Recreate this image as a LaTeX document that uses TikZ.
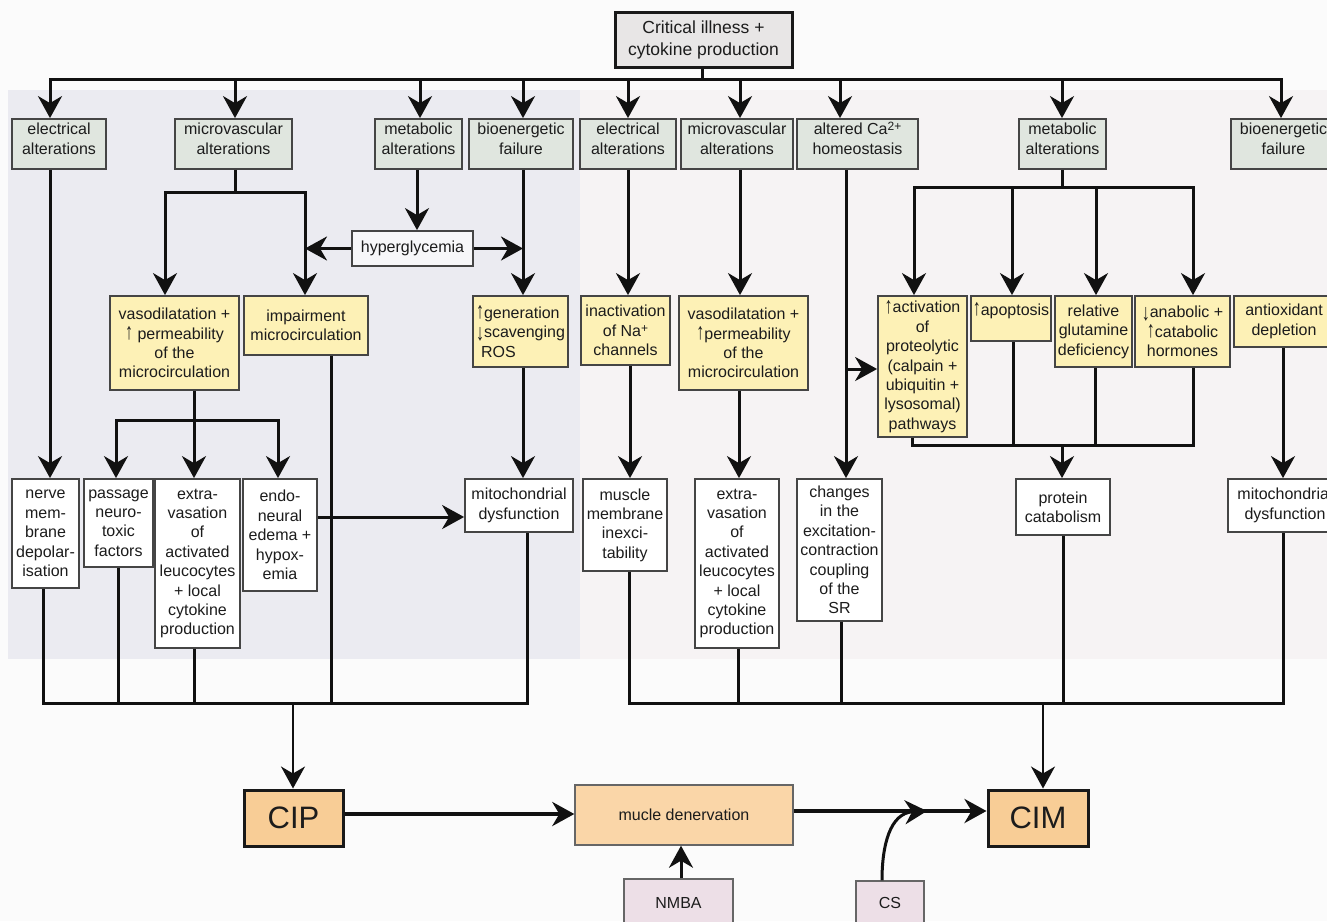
\documentclass[tikz,border=0pt]{standalone}
\usepackage{fontspec}
\setmainfont{Liberation Sans}
\usetikzlibrary{arrows.meta}
\definecolor{pagebg}{HTML}{FBFBFB}
\definecolor{panelL}{HTML}{EBEBF1}
\definecolor{panelR}{HTML}{F6F3F4}
\definecolor{grnfill}{HTML}{E0E6DF}
\definecolor{ylwfill}{HTML}{FDF1B6}
\definecolor{topfill}{HTML}{E8E6E6}
\definecolor{cipfill}{HTML}{F8CD96}
\definecolor{denfill}{HTML}{FAD6A8}
\definecolor{pinkfill}{HTML}{EDDFE7}
\definecolor{bd}{HTML}{454545}
\definecolor{txt}{HTML}{1C1C1C}
\definecolor{lnc}{HTML}{111111}
\newcommand\ua{\raisebox{-0.5pt}{\scalebox{1}[1.45]{↑}}}
\newcommand\da{\raisebox{-3pt}{\scalebox{1}[1.45]{↓}}}
\newcommand\bx[7]{\node[#6, minimum width={(#4)-(#2)}, minimum height={(#5)-(#3)}] (#1) at ({((#2)+(#4))/2},{((#3)+(#5))/2}) {#7};}
\tikzset{
  every node/.style={font=\fontsize{16}{19.4}\selectfont, text=txt},
  boxbase/.style={draw=bd, line width=1.8pt, inner sep=1pt, align=center},
  rowA/.style={boxbase, fill=grnfill, text depth=11pt},
  rowB/.style={boxbase, fill=ylwfill},
  rowC/.style={boxbase, fill=white},
  hypbox/.style={boxbase, fill=white!60!panelL},
  topbox/.style={boxbase, draw=black!90, line width=3pt, fill=topfill, font=\fontsize{17.5}{22}\selectfont},
  bigbox/.style={boxbase, draw=black!90, line width=3pt, fill=cipfill, font=\fontsize{31}{36}\selectfont},
  denbox/.style={boxbase, draw=black!60, line width=1.4pt, fill=denfill},
  pinkbox/.style={boxbase, draw=black!60, line width=1.4pt, fill=pinkfill},
  conn/.style={draw=lnc, line width=3pt},
  bus/.style={conn, line cap=rect},
  arr/.style={conn, -{Stealth[length=22pt, width=24pt, inset=7pt]}},
}
\begin{document}
\begin{tikzpicture}[x=1pt, y=-1pt]
\useasboundingbox (0,0) rectangle (1327,921);
\clip (0,0) rectangle (1327,921);
\fill[pagebg] (0,0) rectangle (1327,921);
\fill[panelL] (8,90) rectangle (580,659);
\fill[panelR] (580,90) rectangle (1327,659);

% top
\bx{tb}{615}{12}{792}{67}{topbox}{Critical illness +\\cytokine production}

% row 1
\bx{elL}{12}{119}{106}{169}{rowA}{electrical\\alterations}
\bx{mvL}{175}{119}{292}{169}{rowA}{microvascular\\alterations}
\bx{meL}{375}{119}{462}{169}{rowA}{metabolic\\alterations}
\bx{biL}{469}{119}{573}{169}{rowA}{bioenergetic\\failure}
\bx{elR}{580}{119}{676}{169}{rowA}{electrical\\alterations}
\bx{mvR}{681}{119}{793}{169}{rowA}{microvascular\\alterations}
\bx{ca}{797}{119}{918}{169}{rowA}{altered Ca\raisebox{4pt}{\fontsize{12}{12}\selectfont 2+}\\homeostasis}
\bx{meR}{1019}{119}{1106}{169}{rowA}{metabolic\\alterations}
\bx{biR}{1231}{119}{1336}{169}{rowA}{bioenergetic\\failure}

\bx{hyp}{352}{231}{473}{266}{hypbox}{hyperglycemia}

% row 2
\bx{vaL}{110}{296}{239}{390}{rowB}{vasodilatation +\\\ua{} permeability\\of the\\microcirculation}
\bx{imp}{244}{296}{368}{355}{rowB}{impairment\\microcirculation}
\bx{gen}{473}{296}{568}{367}{rowB, align=left}{\ua generation\\\da scavenging\\\hspace*{5pt}ROS}
\bx{ina}{581}{296}{670}{365}{rowB}{inactivation\\of Na\raisebox{4pt}{\fontsize{12}{12}\selectfont +}\\channels}
\bx{vaR}{679}{296}{808}{390}{rowB}{vasodilatation +\\\ua permeability\\of the\\microcirculation}
\bx{act}{878}{296}{967}{437}{rowB}{\ua activation\\of\\proteolytic\\(calpain +\\ubiquitin +\\lysosomal)\\pathways}
\bx{apo}{971}{296}{1051}{341}{rowB}{\ua apoptosis\\\mbox{}}
\bx{glu}{1055}{296}{1132}{367}{rowB}{relative\\glutamine\\deficiency}
\bx{hor}{1135}{296}{1230}{367}{rowB}{\da anabolic +\\\ua catabolic\\hormones}
\bx{ant}{1234}{296}{1334}{347}{rowB}{antioxidant\\depletion}

% row 3
\bx{ner}{12}{479}{79}{588}{rowC}{nerve\\mem-\\brane\\depolar-\\isation}
\bx{pas}{84}{479}{153}{567}{rowC}{passage\\neuro-\\toxic\\factors}
\bx{exL}{155}{479}{240}{648}{rowC}{extra-\\vasation\\of\\activated\\leucocytes\\+ local\\cytokine\\production}
\bx{edm}{243}{479}{317}{591}{rowC}{endo-\\neural\\edema +\\hypox-\\emia}
\bx{miL}{465}{479}{573}{532}{rowC}{mitochondrial\\dysfunction}
\bx{mus}{583}{479}{667}{571}{rowC}{muscle\\membrane\\inexci-\\tability}
\bx{exR}{695}{479}{779}{648}{rowC}{extra-\\vasation\\of\\activated\\leucocytes\\+ local\\cytokine\\production}
\bx{chg}{797}{479}{882}{621}{rowC}{changes\\in the\\excitation-\\contraction\\coupling\\of the\\SR}
\bx{pro}{1016}{479}{1110}{535}{rowC}{protein\\catabolism}
\bx{miR}{1228}{479}{1342}{532}{rowC}{mitochondrial\\dysfunction}

% bottom
\bx{cip}{244}{790}{343}{846}{bigbox}{CIP}
\bx{den}{575}{785}{793}{845}{denbox}{mucle denervation}
\bx{cim}{988}{790}{1088}{846}{bigbox}{CIM}
\bx{nmba}{624}{879}{733}{927}{pinkbox}{NMBA}
\bx{cs}{856}{881}{924}{925}{pinkbox}{CS}

% top bus
\draw[conn] (tb.south -| 702,0) -- (702,79);
\draw[bus] (50,79) -- (1281,79);
\foreach \xx/\nn in {50/elL, 235/mvL, 420/meL, 523/biL, 628/elR, 740/mvR, 840/ca, 1062/meR, 1281/biR}
  \draw[arr] (\xx,79) -- (\xx,0 |- \nn.north);

% left group
\draw[arr] (elL.south -| 50,0) -- (50,0 |- ner.north);
\draw[conn] (mvL.south -| 235,0) -- (235,192);
\draw[arr] (235,192) -| (165,0 |- vaL.north);
\draw[arr] (235,192) -| (305,0 |- imp.north);
\draw[arr] (meL.south -| 417,0) -- (417,0 |- hyp.north);
\draw[arr] (hyp.west) -- (hyp.west -| 305,0);
\draw[arr] (hyp.east) -- (hyp.east -| 523,0);
\draw[arr] (biL.south -| 523,0) -- (523,0 |- gen.north);
\draw[conn] (vaL.south -| 194,0) -- (194,420);
\draw[arr] (194,420) -| (116,0 |- pas.north);
\draw[arr] (194,420) -| (278,0 |- edm.north);
\draw[arr] (194,420) -- (194,0 |- exL.north);
\draw[arr] (edm.east |- 0,517) -- (miL.west |- 0,517);
\draw[arr] (gen.south -| 523,0) -- (523,0 |- miL.north);
\draw[conn] (ner.south -| 43,0) -- (43,703) -- (527,703) -- (miL.south -| 527,0);
\draw[conn] (pas.south -| 118,0) -- (118,703);
\draw[conn] (exL.south -| 194,0) -- (194,703);
\draw[conn] (imp.south -| 331,0) -- (331,703);
\draw[arr, line width=2pt] (293,703) -- (293,0 |- cip.north);

% right group
\draw[arr] (elR.south -| 628,0) -- (628,0 |- ina.north);
\draw[arr] (ina.south -| 630,0) -- (630,0 |- mus.north);
\draw[arr] (mvR.south -| 740,0) -- (740,0 |- vaR.north);
\draw[arr] (vaR.south -| 739,0) -- (739,0 |- exR.north);
\draw[arr] (ca.south -| 846,0) -- (846,0 |- chg.north);
\draw[arr] (846,369) -- (act.west |- 0,369);
\draw[conn] (meR.south -| 1062,0) -- (1062,187);
\draw[arr] (1062,187) -| (914,0 |- act.north);
\draw[arr] (1062,187) -| (1193,0 |- hor.north);
\draw[arr] (1012,187) -- (1012,0 |- apo.north);
\draw[arr] (1096,187) -- (1096,0 |- glu.north);
\draw[conn] (act.south -| 912,0) -- (912,445) -- (1193,445) -- (hor.south -| 1193,0);
\draw[conn] (apo.south -| 1013,0) -- (1013,445);
\draw[conn] (glu.south -| 1095,0) -- (1095,445);
\draw[arr] (1062,445) -- (1062,0 |- pro.north);
\draw[arr] (ant.south -| 1283,0) -- (1283,0 |- miR.north);
\draw[conn] (mus.south -| 629,0) -- (629,703) -- (1283,703) -- (miR.south -| 1283,0);
\draw[conn] (exR.south -| 738,0) -- (738,703);
\draw[conn] (chg.south -| 841,0) -- (841,703);
\draw[conn] (pro.south -| 1063,0) -- (1063,703);
\draw[arr, line width=2pt] (1043,703) -- (1043,0 |- cim.north);

% bottom arrows
\coordinate (csj) at (927,811);
\draw[arr, line width=4pt] (cip.east |- 0,814) -- (den.west |- 0,814);
\draw[arr, line width=4pt] (den.east |- 0,811) -- (cim.west |- 0,811);
\draw[arr] (nmba.north -| 681,0) -- (681,0 |- den.south);
\draw[arr] (cs.north -| 882,0) .. controls (882,845) and (890,813) .. (csj);
\end{tikzpicture}
\end{document}
